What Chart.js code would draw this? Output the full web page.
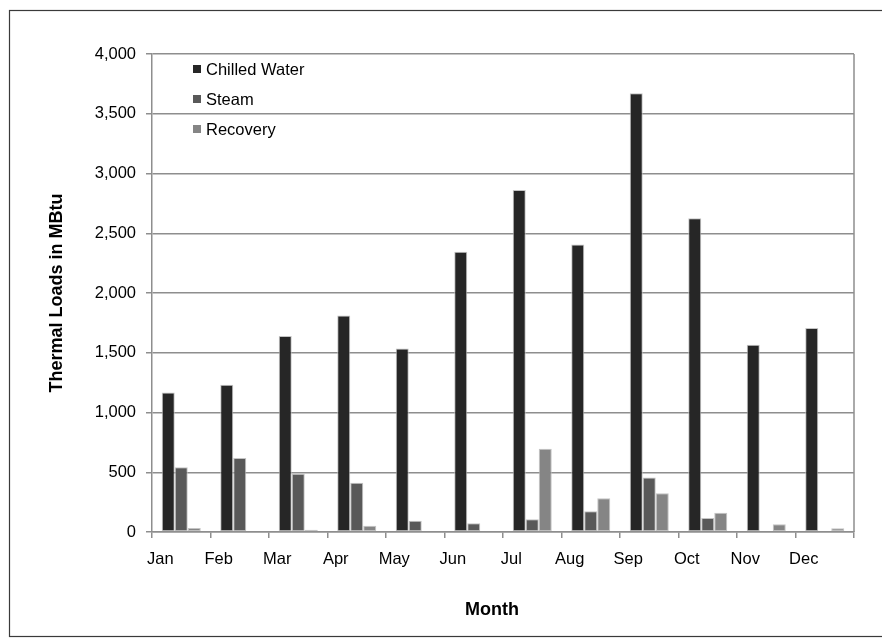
<!DOCTYPE html>
<html>
<head>
<meta charset="utf-8">
<title>Thermal Loads by Month</title>
<script src="https://cdn.jsdelivr.net/npm/chart.js@4/dist/chart.umd.min.js"></script>
<style>
  html, body { margin: 0; padding: 0; background: #fff; }
  #wrap { width: 882px; height: 642px; position: relative; }
</style>
</head>
<body>
<div id="wrap"><canvas id="chart" width="882" height="642"></canvas></div>
<script>
// Monthly thermal loads (MBtu)
const months = ['Jan', 'Feb', 'Mar', 'Apr', 'May', 'Jun', 'Jul', 'Aug', 'Sep', 'Oct', 'Nov', 'Dec'];
const chilledWater = [1168, 1232, 1640, 1812, 1535, 2345, 2862, 2405, 3672, 2626, 1566, 1708];
const steam        = [541, 619, 487, 412, 94, 73, 106, 173, 457, 117, 0, 0];
const recovery     = [33, -10, 19, 53, -10, -10, 696, 282, 324, 161, 64, 31];
const seriesNames  = ['Chilled Water', 'Steam', 'Recovery'];
const yMin = 0, yMax = 4000, yStep = 500;

const FONT = "'Liberation Sans', Arial, Helvetica, sans-serif";
const GRID = '#8e8e8e';

// White background and the outer frame
const framePlugin = {
  id: 'frame',
  beforeDraw(chart) {
    const ctx = chart.ctx;
    ctx.save();
    ctx.fillStyle = '#fff';
    ctx.fillRect(0, 0, chart.width, chart.height);
    ctx.strokeStyle = '#3a3a3a';
    ctx.lineWidth = 1.2;
    ctx.strokeRect(9.5, 10.5, chart.width, 626);
    ctx.restore();
  },
  afterDraw(chart) {
    // right edge of the plot area
    const a = chart.chartArea;
    const ctx = chart.ctx;
    ctx.save();
    ctx.strokeStyle = GRID;
    ctx.lineWidth = 1.5;
    ctx.beginPath();
    ctx.moveTo(a.right, a.top);
    ctx.lineTo(a.right, a.bottom);
    ctx.stroke();
    ctx.restore();
  }
};

// Legend stacked inside the top-left of the plot
const insideLegend = {
  id: 'insideLegend',
  afterDraw(chart) {
    const a = chart.chartArea;
    const ctx = chart.ctx;
    ctx.save();
    ctx.font = `16.5px ${FONT}`;
    ctx.textBaseline = 'middle';
    ctx.textAlign = 'left';
    chart.data.datasets.forEach((ds, i) => {
      const y = a.top + 15 + i * 30;
      ctx.fillStyle = ds.backgroundColor;
      ctx.fillRect(a.left + 41, y - 4, 8, 8);
      ctx.fillStyle = '#000';
      ctx.fillText(ds.label, a.left + 54, y + 1);
    });
    ctx.restore();
  }
};

// Horizontal axis title
const monthTitle = {
  id: 'monthTitle',
  afterDraw(chart) {
    const a = chart.chartArea;
    const ctx = chart.ctx;
    ctx.save();
    ctx.font = `bold 18px ${FONT}`;
    ctx.fillStyle = '#000';
    ctx.textAlign = 'center';
    ctx.textBaseline = 'middle';
    ctx.fillText('Month', (a.left + a.right) / 2 - 11, a.bottom + 78);
    ctx.restore();
  }
};

new Chart(document.getElementById('chart'), {
  type: 'bar',
  data: {
    labels: months,
    datasets: [
      { label: seriesNames[0], data: chilledWater, backgroundColor: '#262626' },
      { label: seriesNames[1], data: steam,        backgroundColor: '#595959' },
      { label: seriesNames[2], data: recovery,     backgroundColor: '#858585' }
    ].map(d => Object.assign(d, {
      borderColor: 'rgba(190,190,190,0.9)',
      borderWidth: 1,
      borderSkipped: false,
      categoryPercentage: 0.667,
      barPercentage: 1.0
    }))
  },
  options: {
    responsive: false,
    animation: false,
    devicePixelRatio: 1,
    layout: { padding: { left: 0, top: 54, right: 28, bottom: 0 } },
    plugins: {
      legend: { display: false },
      tooltip: { enabled: false }
    },
    scales: {
      x: {
        type: 'category',
        offset: true,
        grid: { offset: true, drawOnChartArea: false, drawTicks: true, tickLength: 6, color: GRID, lineWidth: 1.5 },
        border: { display: true, color: GRID, width: 1.5 },
        ticks: {
          color: '#000',
          font: { family: FONT, size: 16.5 },
          padding: 12,
          labelOffset: -21,
          maxRotation: 0,
          autoSkip: false
        },
        afterFit(scale) { scale.height = 110; }
      },
      y: {
        min: yMin,
        max: yMax,
        grid: { color: GRID, lineWidth: 1.5, tickLength: 6, drawTicks: true },
        border: { display: true, color: GRID, width: 1.5 },
        ticks: {
          stepSize: yStep,
          color: '#000',
          font: { family: FONT, size: 16.5 },
          padding: 10,
          callback: v => v.toLocaleString('en-US')
        },
        title: {
          display: true,
          text: 'Thermal Loads in MBtu',
          color: '#000',
          font: { family: FONT, size: 18, weight: 'bold' },
          padding: { top: 46, bottom: 0 }
        },
        afterFit(scale) { scale.width = 152; }
      }
    }
  },
  plugins: [framePlugin, insideLegend, monthTitle]
});
</script>
</body>
</html>
